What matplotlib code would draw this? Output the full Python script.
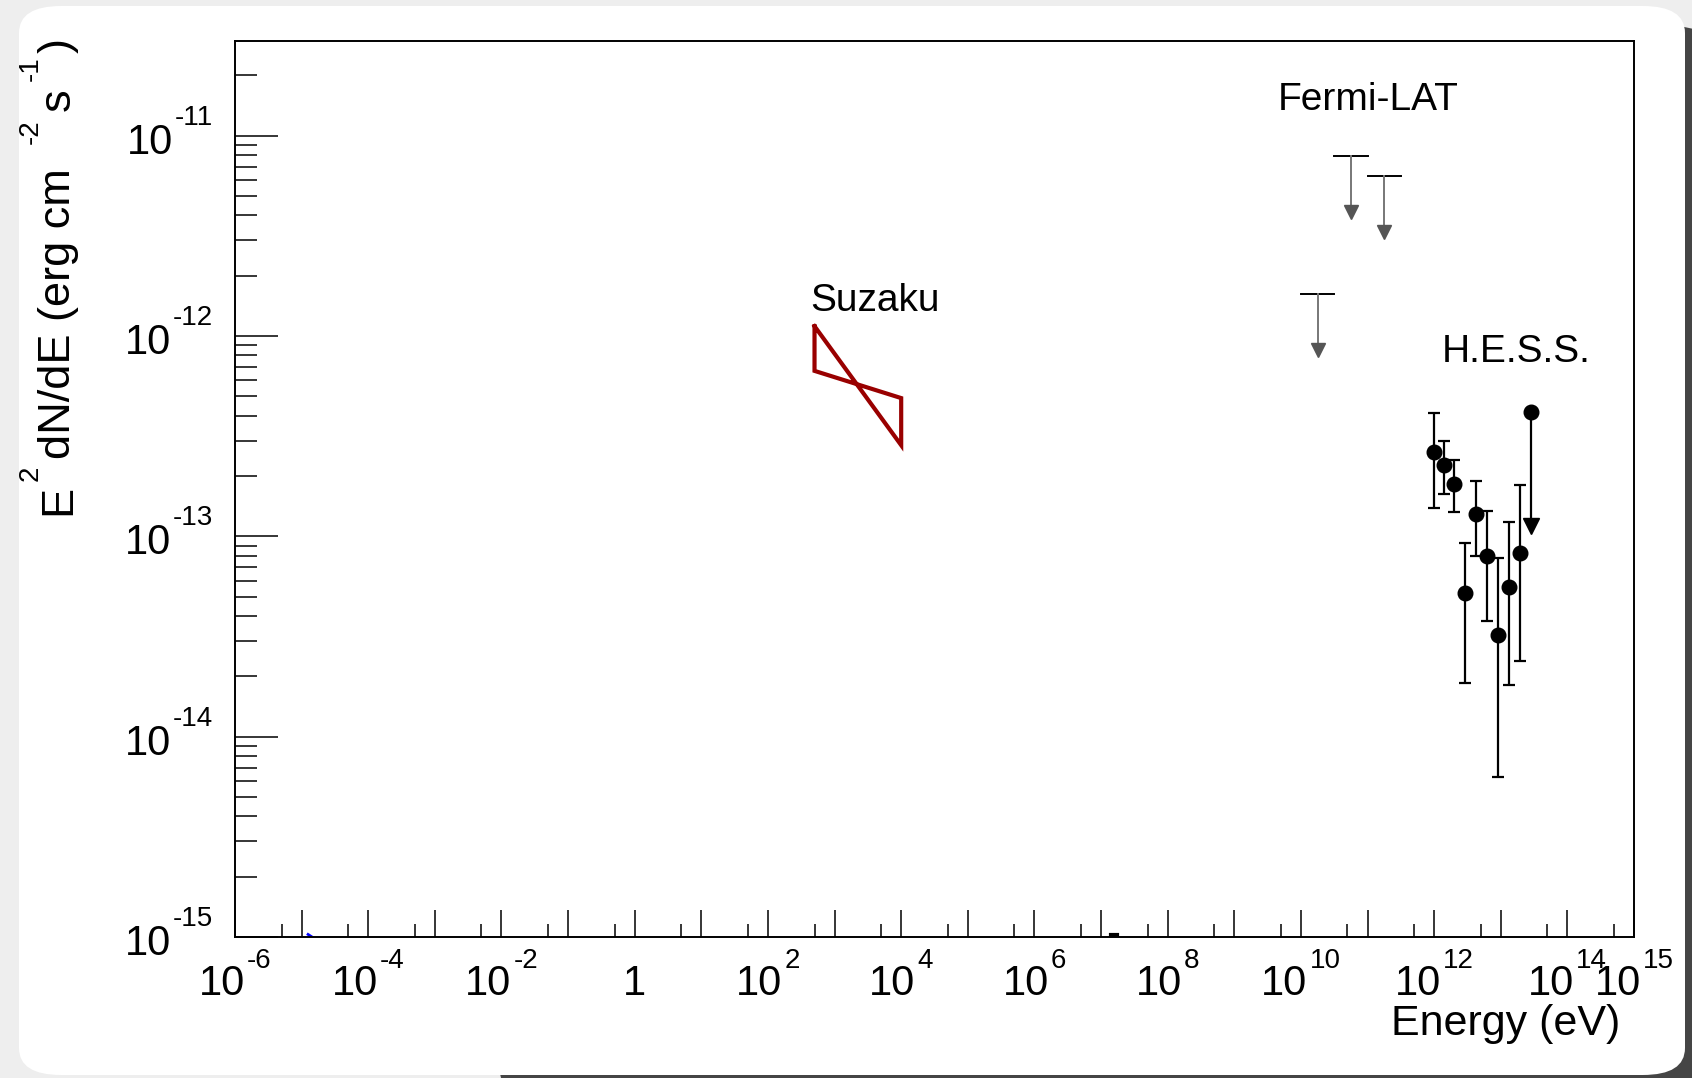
import numpy as np
import matplotlib
matplotlib.use("Agg")
import matplotlib.pyplot as plt
from matplotlib.patches import FancyBboxPatch
from matplotlib.ticker import FixedLocator, NullFormatter
from matplotlib.transforms import IdentityTransform

plt.rcParams['font.family'] = ['Liberation Sans', 'DejaVu Sans']

# H.E.S.S. spectral points (eV, erg cm^-2 s^-1)
hess_e = [1.00e12, 1.39e12, 2.00e12, 2.95e12, 4.27e12, 6.17e12, 9.12e12, 1.35e13, 1.95e13]
hess_f = [2.64e-13, 2.26e-13, 1.83e-13, 5.24e-14, 1.29e-13, 7.97e-14, 3.20e-14, 5.60e-14, 8.30e-14]
hess_hi = [4.12e-13, 3.00e-13, 2.41e-13, 9.30e-14, 1.89e-13, 1.34e-13, 7.80e-14, 1.18e-13, 1.80e-13]
hess_lo = [1.38e-13, 1.63e-13, 1.32e-13, 1.85e-14, 8.00e-14, 3.78e-14, 6.30e-15, 1.82e-14, 2.38e-14]

# last H.E.S.S. bin: upper limit
hess_ul_e = 2.88e13
hess_ul_f = 4.19e-13
hess_ul_end = 1.13e-13

# Fermi-LAT upper limits per energy bin
fermi_emin = [1.0e10, 3.16e10, 1.0e11]
fermi_emax = [3.16e10, 1.0e11, 3.16e11]
fermi_ul = [1.62e-12, 7.9e-12, 6.3e-12]

# Suzaku power-law butterfly
suzaku_e = [500.0, 1.0e4]
suzaku_up = [1.12e-12, 4.9e-13]
suzaku_lo = [6.7e-13, 2.85e-13]

x_label_exp = [-6, -4, -2, 0, 2, 4, 6, 8, 10, 12, 14, 15]
y_label_exp = [-15, -14, -13, -12, -11]

# y title pieces: text, superscript?, start (px from top, text runs upward)
ytitle = [('E', False, 515), ('2', True, 481), ('dN/dE (erg cm', False, 459),
          ('-2', True, 144), ('s', False, 111), ('-1', True, 81), (')', False, 53)]

W, H = 1692, 1078
fig = plt.figure(figsize=(W / 100, H / 100), dpi=100, facecolor='#eeeeee')

# window shadow + white canvas
shadow = FancyBboxPatch((500 / W, -20 / H), (W + 20 - 500) / W, (1052 + 20) / H,
                        boxstyle="round,pad=0,rounding_size=0.025",
                        transform=fig.transFigure, facecolor='#454545',
                        edgecolor='none', zorder=-10)
panel = FancyBboxPatch((19 / W, 3 / H), (1685 - 19) / W, (1072 - 3) / H,
                       boxstyle="round,pad=0,rounding_size=0.025",
                       transform=fig.transFigure, facecolor='white',
                       edgecolor='none', zorder=-9)
fig.patches.extend([shadow, panel])

ax = fig.add_axes([235 / W, 141 / H, (1634 - 235) / W, (1037 - 141) / H])
ax.set_xscale('log')
ax.set_yscale('log')
ax.set_xlim(1e-6, 1e15)
ax.set_ylim(1e-15, 2.97e-11)

# Suzaku butterfly
bx = [suzaku_e[0], suzaku_e[1], suzaku_e[1], suzaku_e[0], suzaku_e[0]]
by = [suzaku_up[0], suzaku_lo[1], suzaku_up[1], suzaku_lo[0], suzaku_up[0]]
ax.plot(bx, by, color='#990000', lw=3.0, solid_joinstyle='miter')

# Fermi-LAT upper limits
for e0, e1, f in zip(fermi_emin, fermi_emax, fermi_ul):
    ec = np.sqrt(e0 * e1)
    ax.plot([e0, e1], [f, f], color='black', lw=1.4)
    ax.plot([ec, ec], [f, f / 2.0], color='#777777', lw=1.4)
    ax.plot([ec], [f / 1.9], marker='v', ms=10, color='#555555', mec='#555555')

# H.E.S.S. points
yerr = [np.array(hess_f) - np.array(hess_lo), np.array(hess_hi) - np.array(hess_f)]
ax.errorbar(hess_e, hess_f, yerr=yerr, fmt='o', color='black', ms=10.5,
            elinewidth=1.6, capsize=4, capthick=1.6)
ax.plot([hess_ul_e, hess_ul_e], [hess_ul_f, hess_ul_end], color='black', lw=1.6)
ax.plot([hess_ul_e], [hess_ul_f], 'o', color='black', ms=10.5)
ax.plot([hess_ul_e], [hess_ul_end], 'v', color='black', ms=11)

# clipped model remnants at the floor
ax.plot([1.25e-5, 1.5e-5], [1.03e-15, 0.99e-15], color='blue', lw=2)
ax.plot([1.4e7, 1.75e7], [1.02e-15, 1.02e-15], color='black', lw=3)

ax.text(4.5e9, 1.35e-11, 'Fermi-LAT', fontsize=28, ha='left', va='baseline')
ax.text(430.0, 1.33e-12, 'Suzaku', fontsize=28, ha='left', va='baseline')
ax.text(1.3e12, 7.4e-13, 'H.E.S.S.', fontsize=28, ha='left', va='baseline')

# ticks
ax.xaxis.set_major_locator(FixedLocator(10.0 ** np.arange(-6, 16)))
ax.xaxis.set_minor_locator(FixedLocator(5 * 10.0 ** np.arange(-6, 15)))
ax.yaxis.set_major_locator(FixedLocator(10.0 ** np.arange(-15, -10)))
ax.yaxis.set_minor_locator(FixedLocator([k * 10.0 ** n for n in range(-15, -10)
                                         for k in range(2, 10)]))
for a in (ax.xaxis, ax.yaxis):
    a.set_major_formatter(NullFormatter())
    a.set_minor_formatter(NullFormatter())
ax.tick_params(axis='x', which='major', direction='in', length=19.5, width=1.1)
ax.tick_params(axis='x', which='minor', direction='in', length=9.5, width=1.1)
ax.tick_params(axis='y', which='major', direction='in', length=31, width=1.1)
ax.tick_params(axis='y', which='minor', direction='in', length=16, width=1.1)
for s in ax.spines.values():
    s.set_linewidth(1.4)

fig.canvas.draw()
renderer = fig.canvas.get_renderer()
base_fs, sup_fs, gap = 30, 20, 2
tr = IdentityTransform()

# x tick labels: 10 with raised exponent, centred on the tick
for n in x_label_exp:
    px, py = ax.transData.transform((10.0 ** n, 1e-15))
    if n == 0:
        fig.text(px, py - 58, '1', transform=tr, fontsize=base_fs, ha='center', va='baseline')
        continue
    t1 = fig.text(0, py - 58, '10', transform=tr, fontsize=base_fs, ha='left', va='baseline')
    t2 = fig.text(0, py - 31, str(n), transform=tr, fontsize=sup_fs, ha='left', va='baseline')
    w1 = t1.get_window_extent(renderer).width
    w2 = t2.get_window_extent(renderer).width
    left = px - (w1 + gap + w2) / 2
    t1.set_x(left)
    t2.set_x(left + w1 + gap)

# y tick labels, right-aligned left of the frame
for n in y_label_exp:
    px, py = ax.transData.transform((1e-6, 10.0 ** n))
    t1 = fig.text(0, py - 18, '10', transform=tr, fontsize=base_fs, ha='left', va='baseline')
    t2 = fig.text(0, py + 11, str(n), transform=tr, fontsize=sup_fs, ha='left', va='baseline')
    w1 = t1.get_window_extent(renderer).width
    w2 = t2.get_window_extent(renderer).width
    right = px - 22
    t2.set_x(right - w2)
    t1.set_x(right - w2 - gap - w1)

fig.text(1620 / W, 1 - 1035 / H, 'Energy (eV)', fontsize=31, ha='right', va='baseline')

# rotated y title, built piece by piece so the exponents sit high and small
for s, sup, start in ytitle:
    xb = 38 if sup else 70
    fig.text(xb, H - start, s, transform=tr, fontsize=20 if sup else 32.5,
             rotation=90, rotation_mode='anchor', ha='left', va='baseline')

fig.savefig('out.png', dpi=100, facecolor=fig.get_facecolor())
